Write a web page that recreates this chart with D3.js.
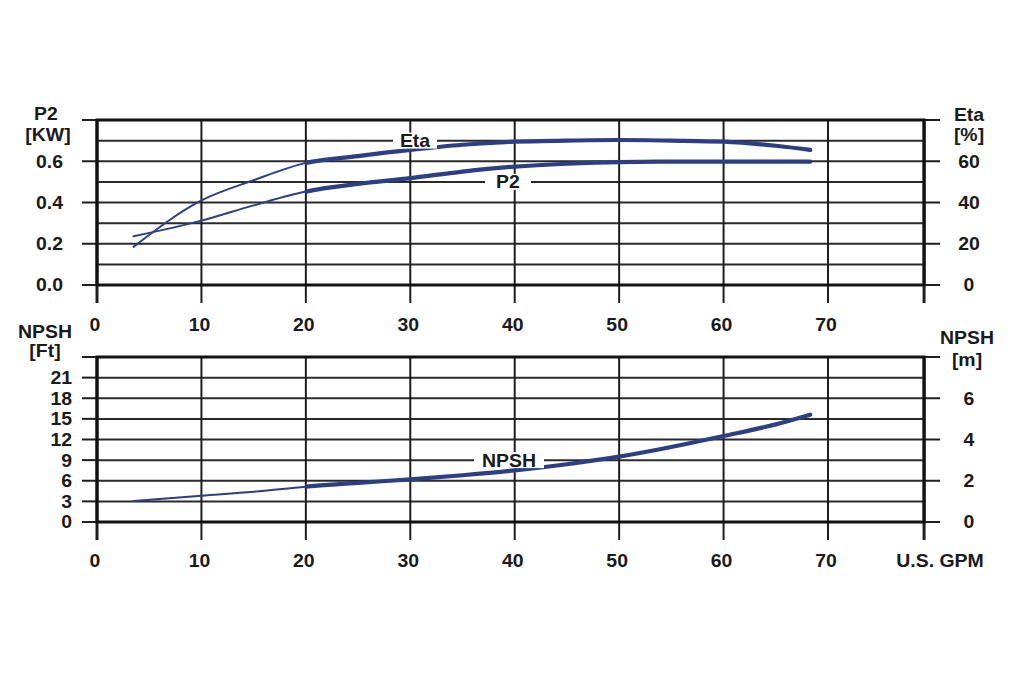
<!DOCTYPE html>
<html>
<head>
<meta charset="utf-8">
<script src="https://cdn.jsdelivr.net/npm/d3@7"></script>
<style>
  html, body { margin: 0; padding: 0; background: #fff; }
  svg { display: block; }
  text { font-family: "Liberation Sans", Arial, sans-serif; font-weight: bold; font-size: 18px; fill: #1a1a1a; }
</style>
</head>
<body>
<svg id="chart" width="1024" height="683"></svg>
<script>
// ---------- data ----------
const flow   = [3.5, 10, 15, 20, 25, 30, 35, 40, 45, 50, 55, 60, 65, 68.3];   // U.S. GPM
const p2     = [0.236, 0.312, 0.386, 0.453, 0.49, 0.518, 0.55, 0.574, 0.588, 0.596, 0.598, 0.598, 0.598, 0.598]; // kW
const eta    = [18.5, 41, 50.8, 59.2, 62.5, 65.5, 68, 69.5, 70, 70.3, 70, 69.5, 67.5, 65.5]; // %
const npshFt = [3.05, 3.83, 4.4, 5.14, 5.7, 6.2, 6.8, 7.5, 8.4, 9.5, 10.9, 12.5, 14.2, 15.6]; // ft

const xTicks      = [0, 10, 20, 30, 40, 50, 60, 70];
const p2Ticks     = [0, 0.2, 0.4, 0.6];
const p2Labels    = ["0.0", "0.2", "0.4", "0.6"];
const p2Grid      = [0.1, 0.2, 0.3, 0.4, 0.5, 0.6, 0.7];
const etaTicks    = [0, 20, 40, 60];
const npshFtTicks = [0, 3, 6, 9, 12, 15, 18, 21];
const npshMTicks  = [0, 2, 4, 6];
const thickFrom   = 20;   // curves drawn bold from this flow on
const xFrameMax   = 79.2; // right frame of the panels

// ---------- layout ----------
const svg = d3.select("#chart");
const lineColor = "#2d3f82";
const gridColor = "#1e1e1e";
const sx = 1.08; // horizontal stretch of the lettering

const x = d3.scaleLinear().domain([0, 70]).range([97, 828]);
const yTop  = d3.scaleLinear().domain([0, 0.8]).range([285, 120]);
const yEta  = d3.scaleLinear().domain([0, 80]).range([285, 120]);
const yBot  = d3.scaleLinear().domain([0, 24]).range([522, 357]);
const yBotM = d3.scaleLinear().domain([0, 8]).range([522, 357]);

function label(x0, y0, txt, anchor) {
  const g = svg.append("g").attr("transform", `translate(${x0},${y0}) scale(${sx},1)`);
  g.append("text").attr("text-anchor", anchor || "middle").attr("dy", "0.36em").text(txt);
  return g;
}

function panel(yScale, gridVals, leftTickVals, rightTickVals, tickBelow) {
  const top = yScale.range()[1], bottom = yScale.range()[0];
  const xl = x(0), xr = x(xFrameMax);
  const g = svg.append("g");
  g.selectAll("line.h").data(gridVals).join("line")
    .attr("x1", xl).attr("x2", xr)
    .attr("y1", d => yScale(d)).attr("y2", d => yScale(d))
    .attr("stroke", "#2a2a2a").attr("stroke-width", 2);
  g.selectAll("line.lt").data(leftTickVals).join("line")
    .attr("x1", xl - 15).attr("x2", xl)
    .attr("y1", d => yScale(d)).attr("y2", d => yScale(d))
    .attr("stroke", gridColor).attr("stroke-width", 2);
  g.selectAll("line.rt").data(rightTickVals).join("line")
    .attr("x1", xr).attr("x2", xr + 16)
    .attr("y1", d => yScale(d)).attr("y2", d => yScale(d))
    .attr("stroke", gridColor).attr("stroke-width", 2);
  g.selectAll("line.v").data(xTicks.concat([xFrameMax])).join("line")
    .attr("x1", d => x(d)).attr("x2", d => x(d))
    .attr("y1", top).attr("y2", bottom + tickBelow)
    .attr("stroke", gridColor).attr("stroke-width", d => (d === 0 || d === xFrameMax) ? 3 : 2);
  g.append("rect").attr("x", xl).attr("y", top).attr("width", xr - xl).attr("height", bottom - top)
    .attr("fill", "none").attr("stroke", "#111").attr("stroke-width", 3);
  return g;
}

panel(yTop, p2Grid, [0, 0.2, 0.4, 0.6, 0.8], [0, 0.2, 0.4, 0.6, 0.8], 18);
panel(yBot, [3, 6, 9, 12, 15, 18, 21], [0, 3, 6, 9, 12, 15, 18, 21, 24], [0, 6, 12, 18, 24], 18);

svg.append("defs").append("clipPath").attr("id", "thick")
  .append("rect").attr("x", x(thickFrom)).attr("y", 0).attr("width", 1024 - x(thickFrom)).attr("height", 683);

function curve(vals, yScale) {
  const pts = flow.map((f, i) => [f, vals[i]]);
  const line = d3.line().x(d => x(d[0])).y(d => yScale(d[1])).curve(d3.curveMonotoneX);
  svg.append("path").attr("d", line(pts)).attr("fill", "none")
    .attr("stroke", lineColor).attr("stroke-width", 2).attr("stroke-linecap", "round");
  svg.append("path").attr("d", line(pts)).attr("fill", "none").attr("clip-path", "url(#thick)")
    .attr("stroke", lineColor).attr("stroke-width", 4.2).attr("stroke-linecap", "round");
}

curve(eta, yEta);
curve(p2, yTop);
curve(npshFt, yBot);

function curveLabel(cx, cy, w, txt) {
  svg.append("rect").attr("x", cx - w / 2).attr("y", cy - 8).attr("width", w).attr("height", 16).attr("fill", "#fff");
  label(cx, cy, txt, "middle");
}
curveLabel(415, yTop(0.7), 44, "Eta");
curveLabel(508, yTop(0.5), 46, "P2");
curveLabel(509, yBot(9), 70, "NPSH");

// ---------- tick labels ----------
p2Ticks.forEach((v, i) => label(63, yTop(v), p2Labels[i], "end"));
etaTicks.forEach(v => label(969, yEta(v), String(v), "middle"));
npshFtTicks.forEach(v => label(72, yBot(v), String(v), "end"));
npshMTicks.forEach(v => label(969, yBotM(v), String(v), "middle"));
xTicks.forEach(v => label(x(v) - 2, 325, String(v), "middle"));
xTicks.forEach(v => label(x(v) - 2, 561, String(v), "middle"));

// ---------- axis titles ----------
label(46, 114, "P2");
label(48, 135, "[KW]");
label(969, 115, "Eta");
label(969, 135, "[%]");
label(45, 332, "NPSH");
label(45, 351, "[Ft]");
label(967, 338, "NPSH");
label(967, 360, "[m]");
label(940, 561, "U.S. GPM");
</script>
</body>
</html>
